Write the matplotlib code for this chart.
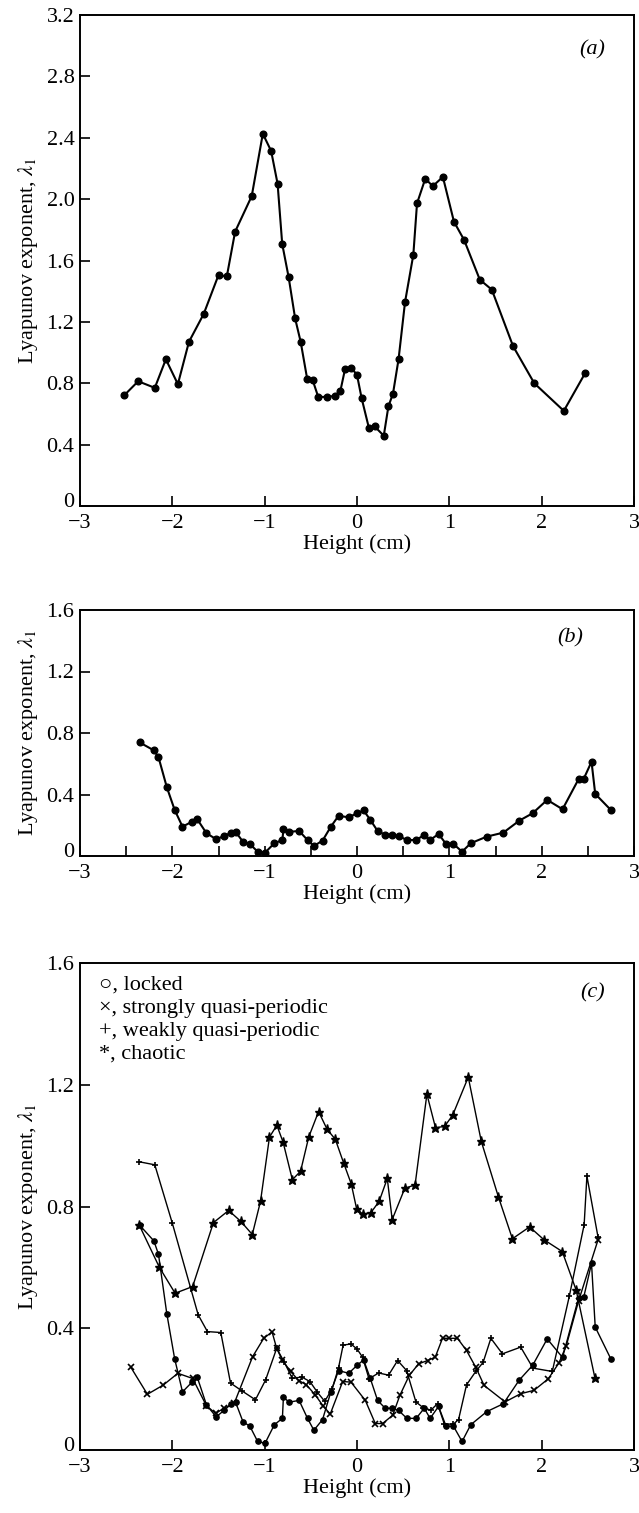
import matplotlib
matplotlib.use("Agg")
import matplotlib.pyplot as plt
import matplotlib.transforms as mtransforms
import numpy as np

plt.rcParams['font.family'] = ['Liberation Serif', 'DejaVu Serif']
plt.rcParams['mathtext.fontset'] = 'stix'

# ---------------- data ----------------
# panel (a)
a_x = [-2.52, -2.37, -2.19, -2.07, -1.94, -1.82, -1.66, -1.50, -1.41, -1.32, -1.14, -1.02,
       -0.93, -0.86, -0.81, -0.74, -0.67, -0.61, -0.54, -0.48, -0.42, -0.32, -0.24, -0.18,
       -0.13, -0.06, 0.00, 0.05, 0.13, 0.19, 0.29, 0.34, 0.39, 0.45, 0.52, 0.61, 0.65,
       0.74, 0.82, 0.93, 1.05, 1.16, 1.33, 1.46, 1.69, 1.92, 2.24, 2.47]
a_y = [0.722, 0.813, 0.77, 0.956, 0.794, 1.07, 1.252, 1.505, 1.496, 1.788, 2.02, 2.426,
       2.314, 2.10, 1.708, 1.49, 1.222, 1.07, 0.83, 0.82, 0.711, 0.711, 0.718, 0.75,
       0.891, 0.90, 0.854, 0.703, 0.506, 0.519, 0.458, 0.649, 0.733, 0.956, 1.328, 1.637, 1.972,
       2.134, 2.084, 2.145, 1.853, 1.734, 1.475, 1.41, 1.042, 0.80, 0.62, 0.865]

# panel (b) (also the "locked" series of panel (c))
b_x = [-2.355, -2.20, -2.15, -2.06, -1.975, -1.89, -1.79, -1.73, -1.63, -1.525, -1.44, -1.36,
       -1.315, -1.235, -1.16, -1.076, -0.996, -0.895, -0.808, -0.797, -0.736, -0.627, -0.536,
       -0.467, -0.373, -0.283, -0.20, -0.09, 0.0, 0.072, 0.144, 0.223, 0.306, 0.378, 0.45,
       0.54, 0.641, 0.728, 0.792, 0.883, 0.965, 1.045, 1.138, 1.232, 1.405, 1.585, 1.758,
       1.902, 2.06, 2.226, 2.40, 2.457, 2.54, 2.58, 2.748]
b_y = [0.739, 0.687, 0.643, 0.448, 0.30, 0.191, 0.222, 0.239, 0.148, 0.109, 0.130, 0.152,
       0.157, 0.093, 0.078, 0.028, 0.022, 0.083, 0.104, 0.174, 0.157, 0.163, 0.104,
       0.065, 0.10, 0.191, 0.261, 0.252, 0.278, 0.296, 0.235, 0.163, 0.137, 0.137, 0.13,
       0.104, 0.104, 0.137, 0.104, 0.143, 0.078, 0.078, 0.028, 0.083, 0.126, 0.152, 0.230,
       0.278, 0.365, 0.304, 0.50, 0.504, 0.613, 0.404, 0.30]

# panel (c): strongly quasi-periodic (x)
sq_x = [-2.45, -2.27, -2.10, -1.94, -1.78, -1.63, -1.53, -1.445, -1.33, -1.13, -1.01, -0.92,
        -0.87, -0.81, -0.72, -0.63, -0.55, -0.45, -0.37, -0.29, -0.155, -0.065, 0.09, 0.198,
        0.277, 0.386, 0.465, 0.566, 0.667, 0.764, 0.847, 0.926, 0.998, 1.088, 1.186, 1.286,
        1.377, 1.604, 1.773, 1.917, 2.072, 2.187, 2.267, 2.40, 2.61]
sq_y = [0.272, 0.183, 0.213, 0.252, 0.235, 0.145, 0.12, 0.137, 0.153, 0.307, 0.367, 0.388,
        0.334, 0.296, 0.258, 0.228, 0.215, 0.18, 0.146, 0.118, 0.225, 0.223, 0.163, 0.087,
        0.087, 0.114, 0.18, 0.245, 0.283, 0.294, 0.305, 0.367, 0.367, 0.367, 0.327, 0.272,
        0.212, 0.158, 0.185, 0.196, 0.234, 0.286, 0.343, 0.49, 0.69]

# panel (c): weakly quasi-periodic (+)
wq_x = [-2.36, -2.19, -2.0, -1.72, -1.62, -1.475, -1.37, -1.25, -1.10, -0.99, -0.87, -0.79,
        -0.70, -0.60, -0.51, -0.43, -0.35, -0.27, -0.20, -0.15, -0.065, 0.0, 0.06, 0.13,
        0.234, 0.342, 0.44, 0.537, 0.638, 0.717, 0.80, 0.872, 0.944, 1.04, 1.10, 1.186,
        1.286, 1.366, 1.45, 1.575, 1.773, 1.906, 2.115, 2.30, 2.46, 2.49, 2.61]
wq_y = [0.947, 0.937, 0.745, 0.444, 0.389, 0.386, 0.22, 0.195, 0.165, 0.23, 0.334, 0.29,
        0.235, 0.24, 0.225, 0.19, 0.16, 0.20, 0.27, 0.345, 0.348, 0.332, 0.305, 0.234,
        0.253, 0.246, 0.294, 0.261, 0.158, 0.139, 0.131, 0.152, 0.087, 0.084, 0.10, 0.214,
        0.258, 0.288, 0.367, 0.316, 0.338, 0.269, 0.258, 0.506, 0.74, 0.90, 0.70]

# panel (c): chaotic (*)
ch_x = [-2.36, -2.14, -1.97, -1.78, -1.555, -1.39, -1.258, -1.134, -1.045, -0.948, -0.868,
        -0.80, -0.70, -0.611, -0.523, -0.416, -0.323, -0.235, -0.146, -0.062, -0.004, 0.062,
        0.151, 0.24, 0.328, 0.381, 0.518, 0.629, 0.757, 0.85, 0.948, 1.036, 1.205, 1.346,
        1.532, 1.683, 1.869, 2.024, 2.223, 2.374, 2.578]
ch_y = [0.74, 0.60, 0.515, 0.537, 0.747, 0.787, 0.751, 0.708, 0.817, 1.028, 1.067,
        1.011, 0.888, 0.916, 1.028, 1.112, 1.053, 1.021, 0.944, 0.874, 0.792, 0.775,
        0.78, 0.817, 0.892, 0.757, 0.86, 0.871, 1.169, 1.059, 1.063, 1.10, 1.225, 1.014,
        0.831, 0.694, 0.733, 0.691, 0.652, 0.525, 0.235]

legend_lines = ["○, locked", "×, strongly quasi-periodic", "+, weakly quasi-periodic", "*, chaotic"]
x_ticks = [-3, -2, -1, 0, 1, 2, 3]
x_ticklabels = ["−3", "−2", "−1", "0", "1", "2", "3"]

# ---------------- figure ----------------
W, H = 639, 1513
fig = plt.figure(figsize=(W / 100, H / 100), dpi=100)

def ax_at(top_px, bot_px, left_px=80, right_px=634):
    return fig.add_axes([left_px / W, 1 - bot_px / H, (right_px - left_px) / W, (bot_px - top_px) / H])

FS = 16
def style(ax, ymax, yticks, ylabels, half_ticks=False):
    ax.set_xlim(-3, 3)
    ax.set_ylim(0, ymax)
    if half_ticks:
        ticks = np.arange(-3, 3.01, 0.5)
        labels = [x_ticklabels[x_ticks.index(int(t))] if float(t).is_integer() else "" for t in ticks]
        ax.set_xticks(ticks)
        ax.set_xticklabels(labels)
    else:
        ax.set_xticks(x_ticks)
        ax.set_xticklabels(x_ticklabels)
    ax.set_yticks(yticks)
    ax.set_yticklabels(ylabels)
    ax.tick_params(direction='in', length=7, width=1.2, labelsize=FS)
    ax.tick_params(axis='x', pad=6)
    ax.tick_params(axis='y', pad=4)
    # lift the "0" y label slightly so it clears the "−3" x label, as in the reference
    lbl0 = ax.get_yticklabels()[0]
    lbl0.set_transform(lbl0.get_transform() + mtransforms.ScaledTranslation(0, 4 / 72, fig.dpi_scale_trans))
    for s in ax.spines.values():
        s.set_linewidth(1.4)
    ax.set_xlabel("Height (cm)", fontsize=FS, labelpad=1)
    ax.set_ylabel(r"Lyapunov exponent, $\lambda_1$", fontsize=FS, labelpad=5)

# (a)
ax1 = ax_at(15, 506)
ax1.plot(a_x, a_y, color='black', lw=1.5, marker='o', ms=4.8)
style(ax1, 3.2, [0, 0.4, 0.8, 1.2, 1.6, 2.0, 2.4, 2.8, 3.2],
      ["0", "0.4", "0.8", "1.2", "1.6", "2.0", "2.4", "2.8", "3.2"])
ax1.text(0.925, 0.93, "(a)", transform=ax1.transAxes, fontsize=FS, style='italic', ha='center', va='center')

# (b)
ax2 = ax_at(610, 856)
ax2.plot(b_x, b_y, color='black', lw=1.5, marker='o', ms=4.8)
style(ax2, 1.6, [0, 0.4, 0.8, 1.2, 1.6], ["0", "0.4", "0.8", "1.2", "1.6"], half_ticks=True)
ax2.text(0.885, 0.885, "(b)", transform=ax2.transAxes, fontsize=FS, style='italic', ha='center', va='center')

# (c)
ax3 = ax_at(963, 1450)
ax3.plot(b_x, b_y, color='black', lw=1.0, marker='o', ms=3.8)
ax3.plot(sq_x, sq_y, color='black', lw=1.0, marker='x', ms=4.5, mew=1.2)
ax3.plot(wq_x, wq_y, color='black', lw=1.0, marker='+', ms=4.5, mew=1.2)
ax3.plot(ch_x, ch_y, color='black', lw=1.0, marker='*', ms=6.5)
style(ax3, 1.6, [0, 0.4, 0.8, 1.2, 1.6], ["0", "0.4", "0.8", "1.2", "1.6"])
ax3.text(0.926, 0.938, "(c)", transform=ax3.transAxes, fontsize=FS, style='italic', ha='center', va='center')
for i, t in enumerate(legend_lines):
    ax3.text(0.035, 0.955 - i * 0.0475, t, transform=ax3.transAxes, fontsize=FS,
             ha='left', va='center', family=['Liberation Serif', 'DejaVu Serif'])

fig.savefig("out.png", dpi=100)
